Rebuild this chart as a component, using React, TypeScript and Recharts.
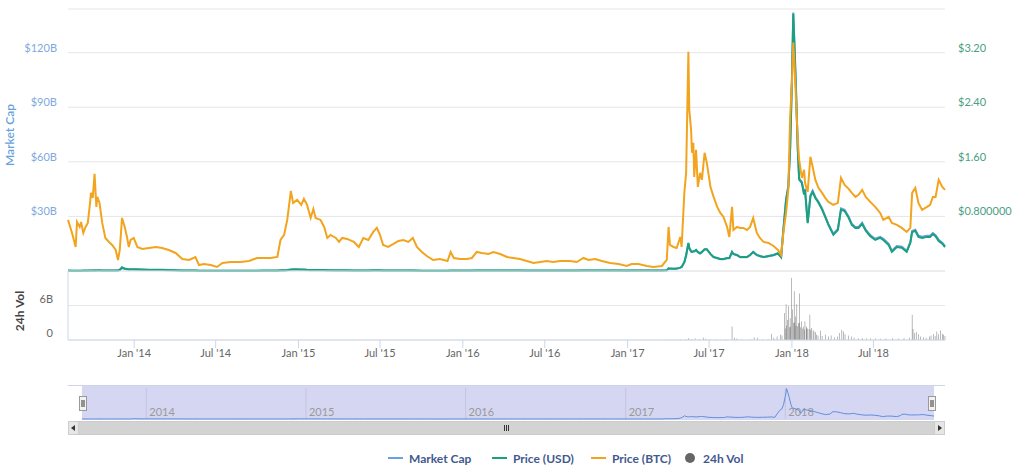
import React from 'react';
import {
  ComposedChart,
  LineChart,
  Line,
  Bar,
  XAxis,
  YAxis,
  CartesianGrid,
  ReferenceLine,
} from 'recharts';

const FONT = 'Lato, "Open Sans", sans-serif';

// sample dates (irregular, denser where the price moves a lot)
const dates = [
  '2013-08-07', '2013-08-16', '2013-08-24', '2013-08-27', '2013-09-02', '2013-09-05', '2013-09-10', '2013-09-15', '2013-09-20', '2013-09-25',
  '2013-09-27', '2013-10-01', '2013-10-05', '2013-10-09', '2013-10-11', '2013-10-16', '2013-10-22', '2013-10-29', '2013-11-06', '2013-11-13',
  '2013-11-21', '2013-11-26', '2013-11-30', '2013-12-05', '2013-12-11', '2013-12-16', '2013-12-20', '2013-12-24', '2013-12-31', '2014-01-08',
  '2014-01-19', '2014-02-03', '2014-02-18', '2014-03-04', '2014-03-19', '2014-04-03', '2014-04-18', '2014-05-03', '2014-05-17', '2014-05-25',
  '2014-06-05', '2014-06-20', '2014-07-04', '2014-07-16', '2014-08-03', '2014-08-25', '2014-09-13', '2014-10-01', '2014-10-16', '2014-10-31',
  '2014-11-15', '2014-11-22', '2014-11-30', '2014-12-07', '2014-12-15', '2014-12-20', '2014-12-29', '2015-01-07', '2015-01-13', '2015-01-20',
  '2015-01-28', '2015-02-03', '2015-02-08', '2015-02-19', '2015-02-27', '2015-03-06', '2015-03-13', '2015-03-25', '2015-04-01', '2015-04-08',
  '2015-04-19', '2015-05-04', '2015-05-15', '2015-05-25', '2015-06-05', '2015-06-16', '2015-06-24', '2015-07-01', '2015-07-08', '2015-07-19',
  '2015-07-31', '2015-08-11', '2015-08-22', '2015-09-02', '2015-09-12', '2015-09-21', '2015-10-02', '2015-10-13', '2015-10-27', '2015-11-11',
  '2015-11-28', '2015-12-05', '2015-12-12', '2015-12-26', '2016-01-10', '2016-01-21', '2016-02-01', '2016-02-12', '2016-02-27', '2016-03-09',
  '2016-03-24', '2016-04-08', '2016-04-22', '2016-05-07', '2016-05-22', '2016-06-06', '2016-06-21', '2016-07-05', '2016-07-20', '2016-08-04',
  '2016-08-26', '2016-09-10', '2016-09-25', '2016-10-06', '2016-10-21', '2016-11-05', '2016-11-23', '2016-12-12', '2016-12-30', '2017-01-10',
  '2017-01-25', '2017-02-13', '2017-02-27', '2017-03-18', '2017-03-29', '2017-04-02', '2017-04-05', '2017-04-13', '2017-04-20', '2017-04-28',
  '2017-05-01', '2017-05-07', '2017-05-11', '2017-05-16', '2017-05-18', '2017-05-22', '2017-05-24', '2017-05-27', '2017-05-29', '2017-06-02',
  '2017-06-06', '2017-06-11', '2017-06-15', '2017-06-21', '2017-06-26', '2017-07-04', '2017-07-11', '2017-07-19', '2017-07-26', '2017-08-02',
  '2017-08-10', '2017-08-15', '2017-08-21', '2017-08-24', '2017-09-01', '2017-09-08', '2017-09-15', '2017-09-23', '2017-09-30', '2017-10-07',
  '2017-10-15', '2017-10-22', '2017-10-30', '2017-11-10', '2017-11-21', '2017-12-01', '2017-12-08', '2017-12-13', '2017-12-19', '2017-12-24',
  '2017-12-28', '2018-01-01', '2018-01-04', '2018-01-07', '2018-01-10', '2018-01-14', '2018-01-17', '2018-01-23', '2018-01-28', '2018-01-30',
  '2018-02-05', '2018-02-11', '2018-02-16', '2018-02-22', '2018-03-01', '2018-03-09', '2018-03-16', '2018-03-23', '2018-04-03', '2018-04-13',
  '2018-04-20', '2018-04-28', '2018-05-07', '2018-05-14', '2018-05-22', '2018-05-29', '2018-06-06', '2018-06-14', '2018-06-24', '2018-07-05',
  '2018-07-16', '2018-07-23', '2018-08-04', '2018-08-11', '2018-08-22', '2018-09-02', '2018-09-13', '2018-09-21', '2018-09-25', '2018-10-02',
  '2018-10-09', '2018-10-17', '2018-10-28', '2018-11-04', '2018-11-10', '2018-11-16', '2018-11-23', '2018-12-01', '2018-12-07',
];

// market cap, $ billions
const marketCap = [
  0.18, 0.15, 0.15, 0.15, 0.15, 0.15, 0.18, 0.18, 0.18, 0.24,
  0.27, 0.27, 0.33, 0.27, 0.3, 0.3, 0.27, 0.24, 0.24, 0.24,
  0.27, 0.33, 0.54, 1.65, 1.05, 0.9, 0.75, 0.78, 0.78, 0.72,
  0.66, 0.6, 0.6, 0.54, 0.45, 0.36, 0.24, 0.21, 0.21, 0.15,
  0.15, 0.15, 0.15, 0.15, 0.15, 0.15, 0.15, 0.15, 0.18, 0.18,
  0.18, 0.3, 0.33, 0.42, 0.66, 0.72, 0.72, 0.66, 0.63, 0.54,
  0.48, 0.48, 0.42, 0.42, 0.39, 0.36, 0.36, 0.33, 0.33, 0.3,
  0.3, 0.27, 0.24, 0.27, 0.27, 0.3, 0.3, 0.3, 0.27, 0.24,
  0.24, 0.24, 0.21, 0.21, 0.21, 0.18, 0.15, 0.15, 0.12, 0.12,
  0.12, 0.18, 0.18, 0.18, 0.18, 0.18, 0.24, 0.24, 0.24, 0.24,
  0.21, 0.21, 0.21, 0.21, 0.18, 0.18, 0.18, 0.18, 0.18, 0.18,
  0.18, 0.18, 0.24, 0.24, 0.24, 0.24, 0.21, 0.21, 0.18, 0.21,
  0.21, 0.21, 0.21, 0.24, 0.37, 1.48, 1.3, 1.22, 1.3, 1.85,
  2.22, 4.81, 8.51, 15.17, 12.58, 10.73, 10.36, 10.73, 10.73, 11.47,
  10.36, 9.62, 10.36, 11.84, 11.84, 9.25, 7.59, 7.03, 6.48, 6.48,
  7.03, 7.03, 10.36, 9.25, 8.7, 7.59, 7.59, 7.59, 8.7, 10.36,
  8.7, 8.14, 7.59, 8.14, 8.7, 9.62, 7.59, 23.1, 39.6, 46.7,
  67.4, 105.6, 142.0, 122.1, 100.4, 67.4, 50.9, 49.0, 42.6, 45.2,
  26.9, 41.5, 44.1, 40.7, 38.1, 34.4, 30.2, 25.9, 20.5, 23.1,
  34.4, 33.6, 29.9, 25.9, 24.2, 24.2, 26.5, 22.7, 19.7, 17.7,
  18.8, 17.7, 14.9, 11.1, 13.7, 13.4, 11.1, 16.0, 22.0, 22.7,
  19.4, 18.8, 19.4, 19.4, 20.9, 19.7, 17.1, 15.6, 13.7,
];

// price in USD
const priceUsd = [
  0.006, 0.005, 0.005, 0.005, 0.005, 0.005, 0.006, 0.006, 0.006, 0.008,
  0.009, 0.009, 0.011, 0.009, 0.01, 0.01, 0.009, 0.008, 0.008, 0.008,
  0.009, 0.011, 0.018, 0.055, 0.035, 0.03, 0.025, 0.026, 0.026, 0.024,
  0.022, 0.02, 0.02, 0.018, 0.015, 0.012, 0.008, 0.007, 0.007, 0.005,
  0.005, 0.005, 0.005, 0.005, 0.005, 0.005, 0.005, 0.005, 0.006, 0.006,
  0.006, 0.01, 0.011, 0.014, 0.022, 0.024, 0.024, 0.022, 0.021, 0.018,
  0.016, 0.016, 0.014, 0.014, 0.013, 0.012, 0.012, 0.011, 0.011, 0.01,
  0.01, 0.009, 0.008, 0.009, 0.009, 0.01, 0.01, 0.01, 0.009, 0.008,
  0.008, 0.008, 0.007, 0.007, 0.007, 0.006, 0.005, 0.005, 0.004, 0.004,
  0.004, 0.006, 0.006, 0.006, 0.006, 0.006, 0.008, 0.008, 0.008, 0.008,
  0.007, 0.007, 0.007, 0.007, 0.006, 0.006, 0.006, 0.006, 0.006, 0.006,
  0.006, 0.006, 0.008, 0.008, 0.008, 0.008, 0.007, 0.007, 0.006, 0.007,
  0.007, 0.007, 0.007, 0.008, 0.01, 0.04, 0.035, 0.033, 0.035, 0.05,
  0.06, 0.13, 0.23, 0.41, 0.34, 0.29, 0.28, 0.29, 0.29, 0.31,
  0.28, 0.26, 0.28, 0.32, 0.32, 0.25, 0.205, 0.19, 0.175, 0.175,
  0.19, 0.19, 0.28, 0.25, 0.235, 0.205, 0.205, 0.205, 0.235, 0.28,
  0.235, 0.22, 0.205, 0.22, 0.235, 0.26, 0.205, 0.6, 1.04, 1.23,
  1.78, 2.8, 3.77, 3.24, 2.66, 1.78, 1.34, 1.29, 1.12, 1.19,
  0.7, 1.09, 1.16, 1.07, 1.0, 0.9, 0.79, 0.675, 0.53, 0.6,
  0.9, 0.88, 0.78, 0.675, 0.63, 0.63, 0.69, 0.59, 0.51, 0.455,
  0.485, 0.455, 0.38, 0.28, 0.35, 0.34, 0.28, 0.41, 0.57, 0.59,
  0.5, 0.485, 0.5, 0.5, 0.54, 0.51, 0.44, 0.4, 0.35,
];

// price in BTC, satoshi
const priceBtc = [
  5100, 3800, 2400, 4900, 4400, 4900, 3800, 4400, 4800, 6800,
  7800, 7300, 9700, 6400, 7400, 6800, 4800, 3300, 2900, 2600,
  2100, 1100, 2100, 5300, 4400, 3400, 2400, 3100, 3300, 2400,
  2200, 2300, 2400, 2300, 2100, 1800, 1200, 1100, 1400, 600,
  700, 600, 400, 800, 900, 900, 1000, 1300, 1300, 1300,
  1400, 3100, 3600, 5100, 8000, 6800, 7100, 6600, 7200, 6600,
  5300, 6200, 5300, 5100, 4400, 3300, 3600, 3300, 2900, 3300,
  3200, 2900, 2400, 3300, 3100, 3900, 4300, 3600, 2600, 2400,
  2700, 3000, 3100, 2900, 3300, 2400, 1900, 1500, 1100, 1200,
  1000, 1900, 1300, 1200, 1200, 1300, 1900, 1800, 1700, 1900,
  1700, 1400, 1300, 1200, 1000, 800, 900, 1000, 900, 1000,
  1000, 900, 1300, 1100, 1200, 1000, 800, 700, 500, 700,
  700, 500, 400, 500, 1100, 4400, 2600, 2400, 2300, 3400,
  2400, 7800, 9800, 21900, 16100, 14100, 11800, 12800, 9400, 12100,
  8400, 9800, 9100, 11800, 10800, 8400, 7400, 6400, 5800, 5400,
  4400, 3400, 6400, 4100, 4400, 4300, 4300, 4100, 4400, 5300,
  3800, 3300, 2900, 2800, 2500, 2100, 1600, 3800, 5800, 8100,
  15400, 18800, 22800, 20400, 17100, 13100, 11100, 9300, 10100, 8800,
  7900, 11400, 10400, 9100, 8300, 7800, 7300, 6900, 6600, 6800,
  9300, 8600, 8200, 7800, 7400, 7600, 8100, 7400, 6900, 6400,
  5800, 5100, 5400, 4800, 4600, 4300, 3900, 4300, 7800, 8300,
  6800, 6100, 6400, 6600, 7400, 7400, 9100, 8400, 8100,
];

const volDates = [
  '2017-03-29', '2017-04-10', '2017-04-28', '2017-05-11', '2017-05-16', '2017-05-24', '2017-05-31', '2017-06-09', '2017-06-18', '2017-06-24',
  '2017-07-03', '2017-07-16', '2017-08-07', '2017-08-21', '2017-08-26', '2017-09-01', '2017-09-12', '2017-09-30', '2017-10-09', '2017-10-16',
  '2017-10-27', '2017-11-09', '2017-11-17', '2017-11-22', '2017-11-29', '2017-12-06', '2017-12-10', '2017-12-15', '2017-12-17', '2017-12-19',
  '2017-12-20', '2017-12-22', '2017-12-24', '2017-12-26', '2017-12-28', '2017-12-29', '2017-12-31', '2018-01-02', '2018-01-04', '2018-01-06',
  '2018-01-07', '2018-01-09', '2018-01-10', '2018-01-12', '2018-01-13', '2018-01-15', '2018-01-17', '2018-01-18', '2018-01-20', '2018-01-22',
  '2018-01-24', '2018-01-27', '2018-01-29', '2018-01-30', '2018-02-02', '2018-02-03', '2018-02-05', '2018-02-08', '2018-02-10', '2018-02-12',
  '2018-02-14', '2018-02-17', '2018-02-19', '2018-02-22', '2018-02-24', '2018-02-28', '2018-03-05', '2018-03-09', '2018-03-16', '2018-03-23',
  '2018-03-29', '2018-04-05', '2018-04-12', '2018-04-16', '2018-04-22', '2018-04-25', '2018-04-29', '2018-05-06', '2018-05-13', '2018-05-19',
  '2018-05-28', '2018-06-06', '2018-06-15', '2018-06-24', '2018-07-05', '2018-07-16', '2018-07-29', '2018-08-12', '2018-08-25', '2018-09-07',
  '2018-09-19', '2018-09-25', '2018-09-27', '2018-10-01', '2018-10-04', '2018-10-09', '2018-10-13', '2018-10-20', '2018-10-26', '2018-11-02',
  '2018-11-06', '2018-11-12', '2018-11-15', '2018-11-19', '2018-11-23', '2018-11-27', '2018-12-01', '2018-12-04', '2018-12-07',
];

// 24h volume, $ billions
const volume = [
  0.05, 0.05, 0.08, 0.1, 0.3, 0.15, 0.25, 0.15, 0.4, 0.2,
  0.1, 0.1, 0.08, 2.35, 0.4, 0.25, 0.1, 0.15, 0.5, 0.4,
  0.1, 0.15, 1.05, 0.4, 0.6, 0.9, 0.8, 4.7, 2.0, 6.2,
  2.5, 3.5, 5.9, 2.2, 3.8, 2.3, 10.8, 5.3, 3.0, 8.5,
  3.0, 4.1, 2.5, 6.2, 2.4, 2.9, 3.0, 8.1, 2.2, 3.2,
  2.0, 2.35, 1.8, 3.2, 2.0, 2.35, 2.0, 1.9, 4.4, 1.8,
  2.1, 1.7, 1.5, 1.4, 0.9, 0.8, 1.6, 0.7, 0.9, 0.6,
  0.8, 0.5, 0.6, 1.2, 1.8, 1.5, 1.0, 0.8, 0.6, 0.4,
  0.3, 0.35, 0.25, 0.3, 0.25, 0.2, 0.25, 0.3, 0.25, 0.3,
  0.4, 4.4, 1.9, 1.2, 1.4, 1.0, 0.6, 0.5, 0.4, 0.6,
  0.8, 1.05, 0.7, 1.5, 1.0, 1.65, 1.1, 0.9, 0.7,
];

const capTicks = [0, 30, 60, 90, 120];
const capTickLabels = ['$0', '$30B', '$60B', '$90B', '$120B'];
const usdTicks = [0, 0.8, 1.6, 2.4, 3.2];
const usdTickLabels = ['$0', '$0.800000', '$1.60', '$2.40', '$3.20'];
const volTicks = [0, 6, 12];
const volTickLabels = ['0', '6B', ''];
const xTickDates = [
  '2014-01-01', '2014-07-01', '2015-01-01', '2015-07-01', '2016-01-01',
  '2016-07-01', '2017-01-01', '2017-07-01', '2018-01-01', '2018-07-01',
];
const xTickLabels = [
  "Jan '14", "Jul '14", "Jan '15", "Jul '15", "Jan '16",
  "Jul '16", "Jan '17", "Jul '17", "Jan '18", "Jul '18",
];
const navYearDates = ['2014-01-01', '2015-01-01', '2016-01-01', '2017-01-01', '2018-01-01'];
const navYearLabels = ['2014', '2015', '2016', '2017', '2018'];

const ts = (s: string) => Date.parse(s + 'T00:00:00Z');
const X_DOMAIN = [ts('2013-08-07'), ts('2018-12-07')];
const xTickTimes = xTickDates.map(ts);

const rows = dates.map((d, i) => ({
  t: ts(d),
  cap: marketCap[i],
  usd: priceUsd[i],
  btc: priceBtc[i],
}));
const volRows = volDates.map((d, i) => ({ t: ts(d), vol: volume[i] }));

const C_CAP = '#6d9de6';
const C_USD = '#1aa07d';
const C_BTC = '#f3a41e';
const C_VOL = '#555555';

const CapTick = (props: any) => {
  const { y, payload } = props;
  const i = capTicks.indexOf(payload.value);
  return (
    <text x={57} y={y - 5} dy="0.35em" textAnchor="end" fill="#80a9dc" fontSize={11} fontFamily={FONT}>
      {capTickLabels[i]}
    </text>
  );
};

const UsdTick = (props: any) => {
  const { y, payload } = props;
  const i = usdTicks.indexOf(payload.value);
  return (
    <text x={958} y={y - 5} dy="0.35em" textAnchor="start" fill="#4a9e82" fontSize={11} fontFamily={FONT}>
      {usdTickLabels[i]}
    </text>
  );
};

const VolTick = (props: any) => {
  const { y, payload } = props;
  const i = volTicks.indexOf(payload.value);
  return (
    <text x={53} y={y - 6.5} dy="0.35em" textAnchor="end" fill="#666" fontSize={11} fontFamily={FONT}>
      {volTickLabels[i]}
    </text>
  );
};

const DateTick = (props: any) => {
  const { x, payload } = props;
  const i = xTickTimes.indexOf(payload.value);
  return (
    <text x={x} y={93} dy="0.35em" textAnchor="middle" fill="#666" fontSize={11} fontFamily={FONT}>
      {xTickLabels[i]}
    </text>
  );
};

const NavYearLabel = (props: any) => {
  const { viewBox, text } = props;
  if (!viewBox) return null;
  return (
    <text x={viewBox.x + 3} y={viewBox.y + viewBox.height - 3} fill="#9a9a9a" fontSize={11} fontFamily={FONT}>
      {text}
    </text>
  );
};

const Handle = ({ cx }: { cx: number }) => (
  <g>
    <rect x={cx - 3.5} y={396.5} width={7} height={14} fill="#f2f2f2" stroke="#999" />
    <line x1={cx - 1} y1={400} x2={cx - 1} y2={407} stroke="#333" />
    <line x1={cx + 1} y1={400} x2={cx + 1} y2={407} stroke="#333" />
  </g>
);

const legendItems = [
  { label: 'Market Cap', color: C_CAP, left: 388, kind: 'line' },
  { label: 'Price (USD)', color: C_USD, left: 492, kind: 'line' },
  { label: 'Price (BTC)', color: C_BTC, left: 591, kind: 'line' },
  { label: '24h Vol', color: '#666666', left: 685, kind: 'dot' },
];

export default function App() {
  return (
    <div style={{ position: 'absolute', left: 0, top: 0, width: 1024, height: 472, background: '#fff', fontFamily: FONT }}>
      {/* navigator mask behind the navigator series */}
      <svg width={1024} height={472} style={{ position: 'absolute', left: 0, top: 0 }}>
        <rect x={82} y={386} width={852} height={34} fill="#d5d6f1" />
        <line x1={68} y1={385.5} x2={945} y2={385.5} stroke="#cfd3e6" />
      </svg>

      <div style={{ position: 'absolute', left: 0, top: 0 }}>
        <ComposedChart width={1024} height={272} data={rows} margin={{ top: 9, right: 0, bottom: 1, left: 0 }}>
          <CartesianGrid yAxisId="cap" vertical={false} stroke="#e6e6e6" />
          <XAxis dataKey="t" type="number" domain={X_DOMAIN} hide />
          <YAxis
            yAxisId="cap"
            width={68}
            domain={[0, 144]}
            ticks={capTicks}
            axisLine={false}
            tickLine={false}
            tick={<CapTick />}
          />
          <YAxis
            yAxisId="usd"
            orientation="right"
            width={79}
            domain={[0, 3.84]}
            ticks={usdTicks}
            axisLine={false}
            tickLine={false}
            tick={<UsdTick />}
          />
          <YAxis yAxisId="btc" hide domain={[0, 26160]} />
          <Line yAxisId="cap" dataKey="cap" stroke={C_CAP} strokeWidth={2} dot={false} isAnimationActive={false} />
          <Line yAxisId="usd" dataKey="usd" stroke={C_USD} strokeWidth={2} dot={false} isAnimationActive={false} />
          <Line yAxisId="btc" dataKey="btc" stroke={C_BTC} strokeWidth={2} dot={false} isAnimationActive={false} />
        </ComposedChart>
      </div>

      <div style={{ position: 'absolute', left: 0, top: 260 }}>
        <ComposedChart width={1024} height={110} data={volRows} margin={{ top: 11, right: 79, bottom: 0, left: 0 }}>
          <CartesianGrid vertical={false} stroke="#e6e6e6" />
          <XAxis
            dataKey="t"
            type="number"
            domain={X_DOMAIN}
            ticks={xTickTimes}
            interval={0}
            height={30}
            axisLine={{ stroke: '#ccd6eb' }}
            tickLine={{ stroke: '#ccd6eb' }}
            tickSize={8}
            tick={<DateTick />}
          />
          <YAxis
            width={68}
            domain={[0, 12]}
            ticks={volTicks}
            axisLine={{ stroke: '#ccd6eb' }}
            tickLine={false}
            tick={<VolTick />}
          />
          <Bar dataKey="vol" fill={C_VOL} barSize={2} isAnimationActive={false} />
        </ComposedChart>
      </div>

      <div style={{ position: 'absolute', left: 0, top: 386 }}>
        <LineChart width={1024} height={34} data={rows} margin={{ top: 2, right: 90, bottom: 1, left: 82 }}>
          <XAxis dataKey="t" type="number" domain={X_DOMAIN} hide />
          <YAxis hide domain={[0, 145]} />
          {navYearDates.map((d, i) => (
            <ReferenceLine
              key={d}
              x={ts(d)}
              stroke="#c3c5e2"
              label={<NavYearLabel text={navYearLabels[i]} />}
            />
          ))}
          <Line dataKey="cap" stroke="#5f8fdd" strokeWidth={1} dot={false} isAnimationActive={false} />
        </LineChart>
      </div>

      <svg width={1024} height={472} style={{ position: 'absolute', left: 0, top: 0, pointerEvents: 'none' }}>
        <text x={14} y={135} transform="rotate(-90 14 135)" textAnchor="middle" fill="#6a9fdd" fontSize={12} fontWeight={600} fontFamily={FONT}>
          Market Cap
        </text>
        <text x={24} y={311} transform="rotate(-90 24 311)" textAnchor="middle" fill="#444" fontSize={12} fontWeight={700} fontFamily={FONT}>
          24h Vol
        </text>

        <Handle cx={83} />
        <Handle cx={932} />

        {/* scrollbar */}
        <rect x={68.5} y={421.5} width={876} height={13} fill="#e6e6e6" stroke="#cccccc" />
        <rect x={78.5} y={421.5} width={856} height={13} fill="#d3d3d3" stroke="#cccccc" />
        <path d="M 75 425 L 71 428 L 75 431 Z" fill="#333" />
        <path d="M 938 425 L 942 428 L 938 431 Z" fill="#333" />
        <line x1={504.5} y1={425} x2={504.5} y2={431} stroke="#333" />
        <line x1={506.5} y1={425} x2={506.5} y2={431} stroke="#333" />
        <line x1={508.5} y1={425} x2={508.5} y2={431} stroke="#333" />
      </svg>

      {legendItems.map((it) => (
        <div
          key={it.label}
          style={{ position: 'absolute', left: it.left, top: 450, height: 16, display: 'flex', alignItems: 'center' }}
        >
          {it.kind === 'line' ? (
            <div style={{ width: 15, height: 2, background: it.color, marginRight: 6 }} />
          ) : (
            <div style={{ width: 10, height: 10, borderRadius: 5, background: it.color, marginRight: 8 }} />
          )}
          <span style={{ fontSize: 12, fontWeight: 700, color: '#42598f', whiteSpace: 'nowrap' }}>{it.label}</span>
        </div>
      ))}
    </div>
  );
}
